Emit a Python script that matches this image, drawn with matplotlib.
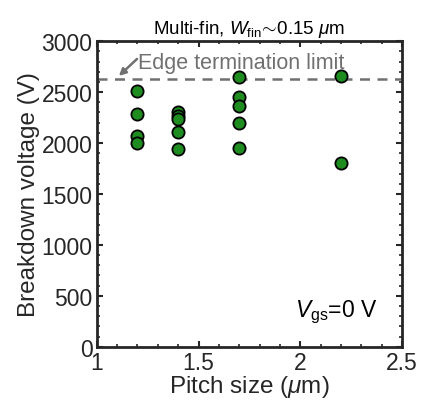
import numpy as np
import matplotlib
matplotlib.use("Agg")
import matplotlib.pyplot as plt

plt.rcParams['font.family'] = ['Liberation Sans', 'DejaVu Sans']
plt.rcParams['mathtext.fontset'] = 'custom'
plt.rcParams['mathtext.rm'] = 'Liberation Sans'
plt.rcParams['mathtext.it'] = 'Liberation Sans:italic'
plt.rcParams['mathtext.bf'] = 'Liberation Sans:bold'

# pitch size (um) and breakdown voltage (V)
pitch = [1.2, 1.2, 1.2, 1.2,
         1.4, 1.4, 1.4, 1.4, 1.4,
         1.7, 1.7, 1.7, 1.7, 1.7,
         2.2, 2.2]
breakdown = [2510, 2290, 2070, 2000,
             2300, 2270, 2240, 2110, 1940,
             2650, 2450, 2360, 2200, 1950,
             2660, 1800]
edge_limit = 2630

dark = '#262626'
grey = '#707070'

fig = plt.figure(figsize=(4.29, 4.02), dpi=100)
ax = fig.add_axes([0.2254, 0.135, 0.712, 0.76])

ax.axhline(edge_limit, color=grey, ls=(0, (4, 3)), lw=1.8, zorder=1)
ax.plot(pitch, breakdown, 'o', ms=8.8, mfc='#1f8c1f', mec='black', mew=1.3,
        ls='none', zorder=3)

# label + small arrow pointing at the dashed line
ax.text(1.203, 2735, 'Edge termination limit', color=grey, fontsize=15.5,
        va='baseline', ha='left')
ax.annotate('', xy=(1.109, 2659), xytext=(1.198, 2826),
            arrowprops=dict(arrowstyle='-|>', color=grey, lw=1.8,
                            mutation_scale=10, shrinkA=0, shrinkB=0))

ax.text(1.975, 305, r'$V_\mathrm{gs}$=0 V', fontsize=16.5, color='black',
        va='baseline', ha='left')

ax.set_xlim(1, 2.5)
ax.set_ylim(0, 3000)
ax.set_xticks([1, 1.5, 2, 2.5])
ax.set_xticklabels(['1', '1.5', '2', '2.5'])
ax.set_yticks(np.arange(0, 3001, 500))
ax.set_xticks(np.arange(1, 2.51, 0.1), minor=True)
ax.set_yticks(np.arange(0, 3001, 100), minor=True)

ax.tick_params(which='both', direction='in', top=True, right=True,
               color=dark, labelsize=16.5, labelcolor=dark)
ax.tick_params(which='major', length=4, width=1.5, pad=3)
ax.tick_params(which='minor', length=2.5, width=1.2)
for s in ax.spines.values():
    s.set_linewidth(2)
    s.set_color(dark)

ax.set_xlabel(r'Pitch size ($\mu$m)', fontsize=17.5, color=dark, labelpad=-1)
ax.set_ylabel('Breakdown voltage (V)', fontsize=17.5, color=dark, labelpad=1)
ax.set_title(r'Multi-fin, $W_\mathrm{fin}\!\sim\!$0.15 $\mu$m', fontsize=13.5,
             color='black', pad=6)

fig.savefig('out.png', dpi=100)
